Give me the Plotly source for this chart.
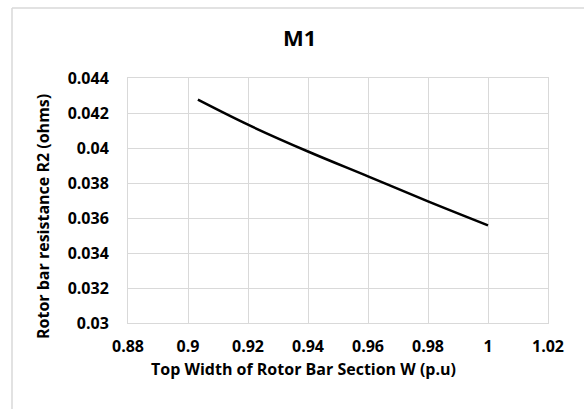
import plotly.graph_objects as go

# Top width of rotor bar section W (p.u) vs rotor bar resistance R2 (ohms)
top_width = [0.9033, 0.92, 0.94, 0.96, 0.98, 1.0]
r2_ohms = [0.04276, 0.04133, 0.0398, 0.03838, 0.03695, 0.03558]

x_ticks = [0.88, 0.9, 0.92, 0.94, 0.96, 0.98, 1, 1.02]
y_ticks = [0.03, 0.032, 0.034, 0.036, 0.038, 0.04, 0.042, 0.044]

font_family = 'Open Sans'
grid_col = '#d9d9d9'

fig = go.Figure(go.Scatter(
    x=top_width,
    y=r2_ohms,
    mode='lines',
    line=dict(color='black', width=2.5, shape='spline'),
    showlegend=False,
))

fig.update_layout(
    width=584,
    height=409,
    margin=dict(l=128, r=36, t=78, b=86),
    paper_bgcolor='white',
    plot_bgcolor='white',
    font=dict(family=font_family, color='black'),
    xaxis=dict(
        range=[0.88, 1.02],
        tickvals=x_ticks,
        ticktext=[str(v) for v in x_ticks],
        showgrid=True, gridcolor=grid_col, gridwidth=1,
        showline=True, linecolor=grid_col, mirror=True,
        zeroline=False,
        ticks='outside', ticklen=9, tickcolor='rgba(0,0,0,0)',
        tickfont=dict(size=16, family=font_family, weight='bold'),
    ),
    yaxis=dict(
        range=[0.03, 0.044],
        tickvals=y_ticks,
        ticktext=[str(v) for v in y_ticks],
        showgrid=True, gridcolor=grid_col, gridwidth=1,
        showline=True, linecolor=grid_col, mirror=True,
        zeroline=False,
        ticks='outside', ticklen=15, tickcolor='rgba(0,0,0,0)',
        tickfont=dict(size=16, family=font_family, weight='bold'),
    ),
    annotations=[
        dict(text='M1', xref='paper', yref='paper', x=(299 - 128) / 420, y=(323 - 37) / 245,
             showarrow=False, xanchor='center', yanchor='middle',
             font=dict(size=22, family=font_family, weight='bold')),
        dict(text='Top Width of Rotor Bar Section W (p.u)', xref='paper', yref='paper',
             x=(303 - 128) / 420, y=(323 - 369) / 245,
             showarrow=False, xanchor='center', yanchor='middle',
             font=dict(size=16, family=font_family, weight='bold')),
        dict(text='Rotor bar resistance R2 (ohms)', xref='paper', yref='paper',
             x=(43 - 128) / 420, y=(323 - 217) / 245, textangle=-90,
             showarrow=False, xanchor='center', yanchor='middle',
             font=dict(size=16, family=font_family, weight='bold')),
    ],
    shapes=[
        # light chart-area border (left and top edges visible)
        dict(type='line', xref='paper', yref='paper',
             x0=(12 - 128) / 420, x1=(12 - 128) / 420, y0=(323 - 8) / 245, y1=(323 - 415) / 245,
             line=dict(color='#d9d9d9', width=1.5)),
        dict(type='line', xref='paper', yref='paper',
             x0=(12 - 128) / 420, x1=(600 - 128) / 420, y0=(323 - 8) / 245, y1=(323 - 8) / 245,
             line=dict(color='#d9d9d9', width=1.5)),
    ],
)

# page has a default 8px body margin, drop it so the chart sits at the window corner
fig.write_html("out.html", config={'displayModeBar': False},
               post_script="document.body.style.margin='0';")
